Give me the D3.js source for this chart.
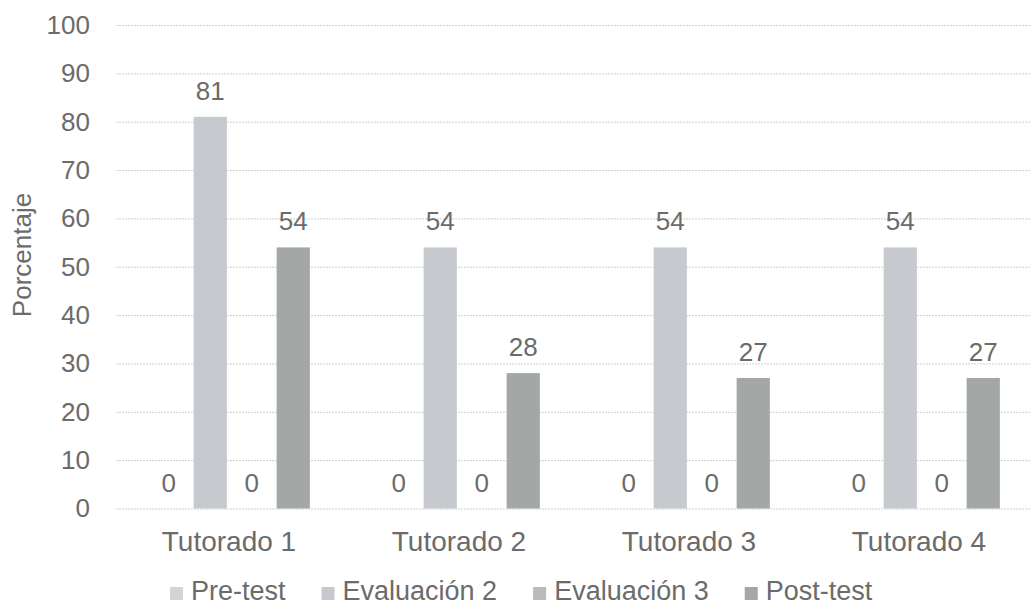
<!DOCTYPE html>
<html>
<head>
<meta charset="utf-8">
<script src="https://cdn.jsdelivr.net/npm/d3@7"></script>
<style>
  html, body { margin: 0; padding: 0; background: #ffffff; }
  svg { display: block; }
  text { font-family: "Liberation Sans", Arial, sans-serif; fill: #6b6b6b; }
</style>
</head>
<body>
<svg id="chart" width="1030" height="607"></svg>
<script>
// Chart data
const categories = ["Tutorado 1", "Tutorado 2", "Tutorado 3", "Tutorado 4"];
const seriesNames = ["Pre-test", "Evaluación 2", "Evaluación 3", "Post-test"];
const preTest = [0, 0, 0, 0];
const evaluacion2 = [81, 54, 54, 54];
const evaluacion3 = [0, 0, 0, 0];
const postTest = [54, 28, 27, 27];
const yTicks = [0, 10, 20, 30, 40, 50, 60, 70, 80, 90, 100];
const seriesColors = ["#d3d4d6", "#c6c9ce", "#b8bbb9", "#a3a7a5"];

const seriesValues = [preTest, evaluacion2, evaluacion3, postTest];

const svg = d3.select("#chart");

// Plot area
const plotLeft = 116, plotRight = 1036, plotTop = 25, plotBottom = 508.5;

const y = d3.scaleLinear().domain([0, 100]).range([plotBottom, plotTop]);
const x0 = d3.scaleBand().domain(categories).range([plotLeft, plotRight]).paddingInner(0).paddingOuter(0);
const groupHalf = 83;
const x1 = d3.scaleBand().domain(seriesNames).range([-groupHalf, groupHalf]).paddingInner(0.2).paddingOuter(0.1);

const color = d3.scaleOrdinal().domain(seriesNames).range(seriesColors);

// Gridlines and value axis
const yAxis = d3.axisLeft(y).tickValues(yTicks).tickSize(-(plotRight - plotLeft)).tickPadding(26);
const gAxis = svg.append("g").attr("transform", `translate(${plotLeft},0)`).call(yAxis);
gAxis.select(".domain").remove();
gAxis.selectAll(".tick line")
  .attr("stroke", "#cfcfcf")
  .attr("stroke-width", 1)
  .attr("stroke-dasharray", "2,1");
gAxis.selectAll(".tick text")
  .attr("font-size", 26)
  .attr("fill", "#6b6b6b")
  .style("font-family", "'Liberation Sans', Arial, sans-serif");

// Bars
const rows = categories.map((c, i) => ({
  category: c,
  values: seriesNames.map((s, j) => ({ series: s, value: seriesValues[j][i] }))
}));

const groups = svg.append("g").selectAll("g.group")
  .data(rows).join("g")
  .attr("class", "group")
  .attr("transform", d => `translate(${x0(d.category) + x0.bandwidth() / 2},0)`);

groups.selectAll("rect")
  .data(d => d.values).join("rect")
  .attr("x", d => x1(d.series))
  .attr("width", x1.bandwidth())
  .attr("y", d => y(d.value))
  .attr("height", d => y(0) - y(d.value))
  .attr("fill", d => color(d.series));

// Value labels
groups.selectAll("text.value")
  .data(d => d.values).join("text")
  .attr("class", "value")
  .attr("x", d => x1(d.series) + x1.bandwidth() / 2)
  .attr("y", d => y(d.value) - 17)
  .attr("text-anchor", "middle")
  .attr("font-size", 26)
  .text(d => d.value);

// Category labels
svg.append("g").selectAll("text")
  .data(categories).join("text")
  .attr("x", d => x0(d) + x0.bandwidth() / 2 - 2)
  .attr("y", 551)
  .attr("text-anchor", "middle")
  .attr("font-size", 28)
  .text(d => d);

// Y axis title
svg.append("text")
  .attr("transform", `translate(31,255) rotate(-90)`)
  .attr("text-anchor", "middle")
  .attr("font-size", 26)
  .text("Porcentaje");

// Legend
const legend = svg.append("g").attr("class", "legend");
let lx = 170;
seriesNames.forEach((s, i) => {
  const item = legend.append("g").attr("transform", `translate(${lx},0)`);
  item.append("rect")
    .attr("x", 0).attr("y", 587)
    .attr("width", 13).attr("height", 13)
    .attr("fill", seriesColors[i]);
  const t = item.append("text")
    .attr("x", 21).attr("y", 600)
    .attr("font-size", 27)
    .text(s);
  const w = t.node().getComputedTextLength();
  lx += 21 + w + 36;
});
</script>
</body>
</html>
